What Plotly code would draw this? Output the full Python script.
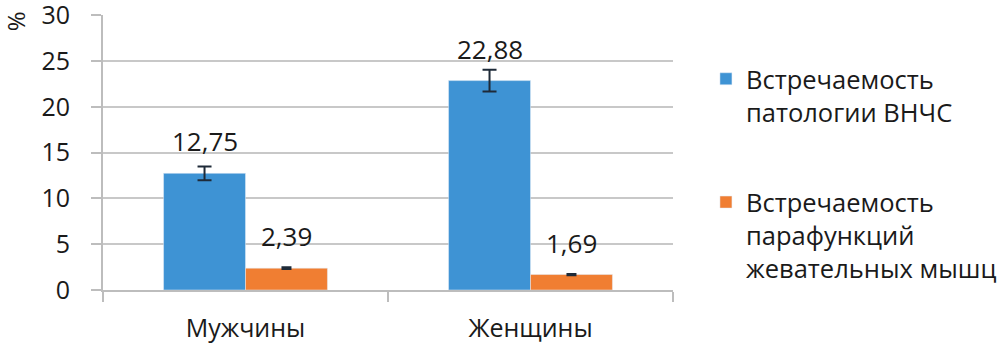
import plotly.graph_objects as go

categories = ["Мужчины", "Женщины"]
series_names = ["Встречаемость<br>патологии ВНЧС", "Встречаемость<br>парафункций<br>жевательных мышц"]
vnchs = [12.75, 22.88]
vnchs_err = [0.75, 1.2]
parafunc = [2.39, 1.69]
parafunc_err = [0.1, 0.07]
y_ticks = [0, 5, 10, 15, 20, 25, 30]

BLUE = "#3E93D4"
ORANGE = "#F07E32"
FONT = "Open Sans"

fig = go.Figure()
fig.add_trace(go.Bar(
    x=categories, y=vnchs, name=series_names[0], marker_color=BLUE,
    legendgroup="a",
    error_y=dict(type="data", array=vnchs_err, color="#1E2A38", thickness=2, width=7),
))
fig.add_trace(go.Bar(
    x=categories, y=parafunc, name=series_names[1], marker_color=ORANGE,
    legendgroup="b",
    error_y=dict(type="data", array=parafunc_err, color="#1E2A38", thickness=2, width=5),
))

def fmt(v):
    return f"{v:.2f}".replace(".", ",")

for vals, shift in ((vnchs, -41), (parafunc, 41)):
    for c, v in zip(categories, vals):
        fig.add_annotation(x=c, y=v, text=fmt(v), showarrow=False, xshift=shift, yshift=32,
                           yanchor="middle", font=dict(family=FONT, size=26, color="#1a1a1a"))

fig.add_annotation(xref="paper", yref="paper", x=-0.154, y=0.978, text="%", textangle=-90,
                   showarrow=False, yanchor="middle", xanchor="center",
                   font=dict(family=FONT, size=24, color="#1a1a1a"))

fig.update_layout(
    width=1004, height=343,
    margin=dict(l=103, r=331, t=15, b=53, autoexpand=False),
    paper_bgcolor="white", plot_bgcolor="white",
    barmode="group", bargap=0.425, bargroupgap=0,
    font=dict(family=FONT, size=25, color="#1a1a1a"),
    showlegend=True,
    legend=dict(x=1.0578, xanchor="left", y=0.852, yanchor="top", valign="top",
                tracegroupgap=54, traceorder="grouped",
                font=dict(family=FONT, size=25.5, color="#1a1a1a"),
                bgcolor="rgba(0,0,0,0)"),
)
fig.update_yaxes(range=[0, 30.05], tickvals=y_ticks, showgrid=True, gridcolor="#C8C8C8", gridwidth=2,
                 showline=True, linecolor="#BDBDBD", linewidth=2, ticks="outside", ticklen=10,
                 tickcolor="#BDBDBD", tickwidth=2, zeroline=False, ticklabelstandoff=16,
                 ticklabeloverflow="allow", automargin=False,
                 tickfont=dict(family=FONT, size=25, color="#1a1a1a"))
fig.update_xaxes(showline=True, linecolor="#BDBDBD", linewidth=2, ticks="outside", ticklen=10,
                 tickcolor="#BDBDBD", tickwidth=2, tickson="boundaries", showgrid=False,
                 ticklabelstandoff=15, automargin=False,
                 tickfont=dict(family=FONT, size=25, color="#1a1a1a"))

fig.write_html("out.html")
